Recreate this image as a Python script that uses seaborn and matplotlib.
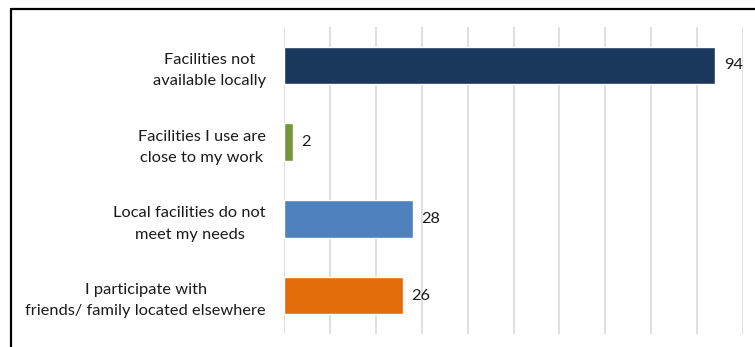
import matplotlib
matplotlib.use("Agg")
import matplotlib.pyplot as plt
from matplotlib.lines import Line2D
import seaborn as sns
import pandas as pd

reasons = [
    "Facilities not\navailable locally",
    "Facilities I use are\nclose to my work",
    "Local facilities do not\nmeet my needs",
    "I participate with\nfriends/ family located elsewhere",
]
counts = [94, 2, 28, 26]
colors = ["#1A375E", "#77933C", "#4F81BD", "#E46C0A"]
grid_ticks = list(range(0, 101, 10))

df = pd.DataFrame({"reason": reasons, "count": counts})

sns.set_theme(style="white")
plt.rcParams["font.family"] = ["Lato", "DejaVu Sans"]

fig = plt.figure(figsize=(7.55, 3.47), dpi=100)
ax = fig.add_axes([284 / 755, 1 - 334 / 347, 459 / 755, 307 / 347])

sns.barplot(data=df, y="reason", x="count", hue="reason", palette=colors,
            orient="h", width=0.49, legend=False, ax=ax, saturation=1)

ax.set_xlim(0, 100)
ax.set_xticks(grid_ticks)
ax.set_xticklabels([])
ax.tick_params(axis="x", length=0)
ax.tick_params(axis="y", length=0, pad=13)
ax.xaxis.grid(True, color="#D9D9D9", linewidth=1.2)
ax.set_axisbelow(True)
for s in ax.spines.values():
    s.set_visible(False)
ax.set_xlabel("")
ax.set_ylabel("")

for lbl in ax.get_yticklabels():
    lbl.set_multialignment("center")
    lbl.set_fontsize(11.8)
    lbl.set_linespacing(1.65)
    lbl.set_color("#1a1a1a")

for cont in ax.containers:
    ax.bar_label(cont, padding=6, fontsize=11.8, color="#1a1a1a")

# frame edges along the top and left of the canvas
fig.add_artist(Line2D([10.5 / 755, 1], [1 - 9 / 347, 1 - 9 / 347],
                      color="black", linewidth=1.6, transform=fig.transFigure))
fig.add_artist(Line2D([10.8 / 755, 10.8 / 755], [0, 1 - 9 / 347],
                      color="black", linewidth=1.6, transform=fig.transFigure))

fig.savefig("out.png", dpi=100)
